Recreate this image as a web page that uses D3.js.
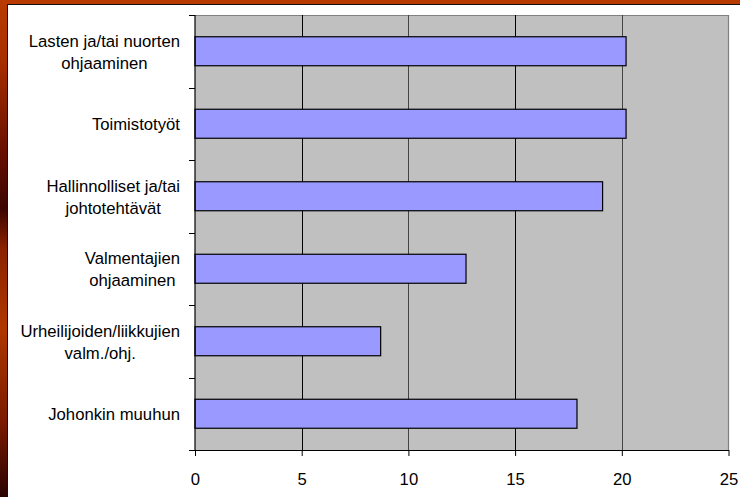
<!DOCTYPE html>
<html>
<head>
<meta charset="utf-8">
<script src="https://cdn.jsdelivr.net/npm/d3@7"></script>
<style>
  body { margin: 0; background: #fff; }
  svg { display: block; }
  text { font-family: "Liberation Sans", Arial, sans-serif; fill: #000; }
</style>
</head>
<body>
<svg id="chart" width="740" height="497"></svg>
<script>
// Data
var categories = [
  "Lasten ja/tai nuorten\nohjaaminen",
  "Toimistotyöt",
  "Hallinnolliset ja/tai\njohtotehtävät",
  "Valmentajien\nohjaaminen",
  "Urheilijoiden/liikkujien\nvalm./ohj.",
  "Johonkin muuhun"
];
var values = [20.2, 20.2, 19.1, 12.7, 8.7, 17.9];
var xTicks = [0, 5, 10, 15, 20, 25];

var svg = d3.select("#chart");
var W = 740, H = 497;

// Slide background (red frame round the white chart)
var defs = svg.append("defs");
var grad = defs.append("linearGradient").attr("id", "frame").attr("x1", 0).attr("y1", 0).attr("x2", 0).attr("y2", 1);
[[0, "#b83a00"], [0.12, "#a83000"], [0.3, "#6a1000"], [0.42, "#3c0500"], [0.5, "#8a2200"], [0.66, "#b03800"], [0.85, "#7a1a00"], [1, "#2a0300"]]
  .forEach(function(s) { grad.append("stop").attr("offset", s[0]).attr("stop-color", s[1]); });
svg.append("rect").attr("width", W).attr("height", H).attr("fill", "url(#frame)");
svg.append("rect").attr("x", 0).attr("y", 0).attr("width", W).attr("height", 5).attr("fill", "#b83a00");
svg.append("rect").attr("x", 7.5).attr("y", 4.5).attr("width", W).attr("height", H).attr("fill", "#fff").attr("stroke", "#111").attr("stroke-width", 1);

// Plot area
var plot = { left: 195, right: 728.5, top: 15, bottom: 450 };

var x = d3.scaleLinear().domain([0, 25]).range([plot.left, plot.right]);
var y = d3.scaleBand().domain(categories).range([plot.top, plot.bottom]).paddingInner(0.6).paddingOuter(0.3);
var yBand = d3.scaleBand().domain(categories).range([plot.top, plot.bottom]);

var g = svg.append("g");

g.append("rect")
  .attr("x", plot.left).attr("y", plot.top)
  .attr("width", plot.right - plot.left).attr("height", plot.bottom - plot.top)
  .attr("fill", "#c0c0c0");

// Top and right border
g.append("path")
  .attr("d", "M" + plot.left + "," + (plot.top + 0.5) + "H" + plot.right + "V" + plot.bottom)
  .attr("fill", "none").attr("stroke", "#808080").attr("stroke-width", 1.2);

// Gridlines
g.selectAll("line.grid").data(xTicks.filter(function(d) { return d > 0 && d < 25; }))
  .enter().append("line").attr("class", "grid")
  .attr("x1", function(d) { return Math.round(x(d)) + 0.5; })
  .attr("x2", function(d) { return Math.round(x(d)) + 0.5; })
  .attr("y1", plot.top).attr("y2", plot.bottom)
  .attr("stroke", function(d) { return d % 10 === 0 ? "#444" : "#000"; }).attr("stroke-width", 1);

// Bars
g.selectAll("rect.bar").data(values)
  .enter().append("rect").attr("class", "bar")
  .attr("x", x(0))
  .attr("y", function(d, i) { return y(categories[i]); })
  .attr("width", function(d) { return x(d) - x(0); })
  .attr("height", y.bandwidth())
  .attr("fill", "#9999ff").attr("stroke", "#000").attr("stroke-width", 1.2);

// X axis
var xAxis = d3.axisBottom(x).tickValues(xTicks).tickSize(6).tickPadding(17).tickSizeOuter(0);
var xg = g.append("g").attr("transform", "translate(0," + plot.bottom + ")").call(xAxis);
xg.select(".domain").attr("stroke", "#000").attr("stroke-width", 1.2);
xg.selectAll(".tick line").attr("stroke", "#000");
xg.selectAll(".tick text").attr("font-size", 16.7).attr("font-family", "Liberation Sans, Arial, sans-serif").attr("fill", "#000");

// Y axis line and ticks at band boundaries
g.append("line")
  .attr("x1", plot.left).attr("x2", plot.left).attr("y1", plot.top).attr("y2", plot.bottom)
  .attr("stroke", "#000").attr("stroke-width", 1.2);
var bounds = categories.map(function(c) { return yBand(c); }).concat([plot.bottom]);
g.selectAll("line.ytick").data(bounds)
  .enter().append("line").attr("class", "ytick")
  .attr("x1", plot.left - 6).attr("x2", plot.left)
  .attr("y1", function(d) { return Math.round(d) + 0.5; })
  .attr("y2", function(d) { return Math.round(d) + 0.5; })
  .attr("stroke", "#000").attr("stroke-width", 1);

// Category labels: block right-aligned, lines centred in block
var labelRight = 180, lineH = 22;
categories.forEach(function(c) {
  var lines = c.split("\n");
  var cy = yBand(c) + yBand.bandwidth() / 2;
  var t = g.append("text").attr("font-size", 16.7).attr("text-anchor", "middle");
  var spans = lines.map(function(l, i) {
    return t.append("tspan").attr("y", cy + (i - (lines.length - 1) / 2) * lineH + 6.3).text(l);
  });
  var maxW = d3.max(spans, function(s) { return s.node().getComputedTextLength(); });
  spans.forEach(function(s) { s.attr("x", labelRight - maxW / 2); });
});
</script>
</body>
</html>
